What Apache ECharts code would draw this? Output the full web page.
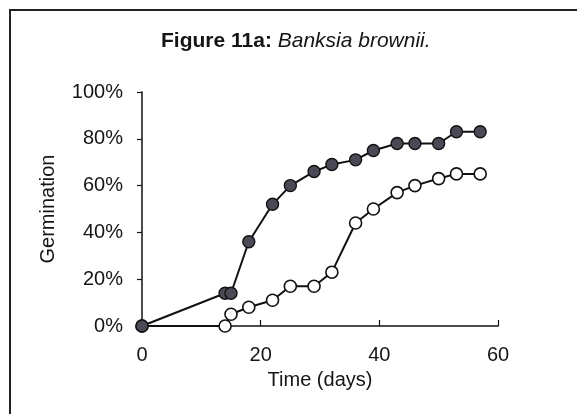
<!DOCTYPE html>
<html>
<head>
<meta charset="utf-8">
<script src="https://cdn.jsdelivr.net/npm/echarts@6/dist/echarts.min.js"></script>
<style>
html,body{margin:0;padding:0;background:#fff;}
#chart{width:577px;height:414px;}
</style>
</head>
<body>
<div id="chart"></div>
<script>
// Data
const days = [0, 14, 15, 18, 22, 25, 29, 32, 36, 39, 43, 46, 50, 53, 57];
const filledVals = [0, 14, 14, 36, 52, 60, 66, 69, 71, 75, 78, 78, 78, 83, 83];
const openVals = [0, 0, 5, 8, 11, 17, 17, 23, 44, 50, 57, 60, 63, 65, 65];
const titleMain = 'Figure 11a: ';
const titleSpecies = 'Banksia brownii.';
const xName = 'Time (days)';
const yName = 'Germination';

const font = '"Liberation Sans", Arial, sans-serif';
const chart = echarts.init(document.getElementById('chart'), null, {renderer: 'canvas'});

function pairs(xs, ys) { return xs.map((x, i) => [x, ys[i]]); }

chart.setOption({
  animation: false,
  backgroundColor: '#fff',
  title: {
    text: '{b|' + titleMain + '}{i|' + titleSpecies + '}',
    left: 161,
    top: 29,
    padding: 0,
    textStyle: {
      fontWeight: 'normal',
      rich: {
        b: {fontFamily: font, fontWeight: 'bold', fontStyle: 'normal', fontSize: 21, color: '#151515', lineHeight: 24},
        i: {fontFamily: font, fontWeight: 'normal', fontStyle: 'italic', fontSize: 21, color: '#151515', lineHeight: 24}
      }
    }
  },
  graphic: [{
    type: 'rect',
    shape: {x: 10, y: 10, width: 620, height: 460},
    style: {fill: 'none', stroke: '#222', lineWidth: 2},
    silent: true
  }],
  grid: {left: 142, right: 79, top: 92, bottom: 88, containLabel: false},
  xAxis: {
    type: 'value',
    min: 0, max: 60, interval: 20,
    name: xName,
    nameLocation: 'middle',
    nameGap: 44,
    nameTextStyle: {fontFamily: font, fontSize: 20, color: '#151515'},
    axisLine: {show: true, onZero: false, lineStyle: {color: '#111', width: 1.5}},
    axisTick: {show: true, inside: true, length: 6, lineStyle: {color: '#111', width: 1.2}},
    axisLabel: {fontFamily: font, fontSize: 20, color: '#151515', margin: 19},
    splitLine: {show: false}
  },
  yAxis: {
    type: 'value',
    min: 0, max: 100, interval: 20,
    name: yName,
    nameLocation: 'middle',
    nameGap: 84,
    nameRotate: 90,
    nameTextStyle: {fontFamily: font, fontSize: 20, color: '#151515'},
    axisLine: {show: true, lineStyle: {color: '#111', width: 1.5}},
    axisTick: {show: true, inside: false, length: 5, lineStyle: {color: '#111', width: 1.2}},
    axisLabel: {fontFamily: font, fontSize: 20, color: '#151515', margin: 19, formatter: '{value}%'},
    splitLine: {show: false}
  },
  series: [
    {
      name: 'open',
      type: 'line',
      data: pairs(days, openVals),
      symbol: 'circle',
      symbolSize: 12,
      lineStyle: {color: '#111', width: 2},
      itemStyle: {color: '#fff', borderColor: '#111', borderWidth: 1.6},
      z: 2
    },
    {
      name: 'filled',
      type: 'line',
      data: pairs(days, filledVals),
      symbol: 'circle',
      symbolSize: 12,
      lineStyle: {color: '#111', width: 2},
      itemStyle: {color: '#4a4a56', borderColor: '#111', borderWidth: 1.4},
      z: 3
    }
  ]
});
</script>
</body>
</html>
